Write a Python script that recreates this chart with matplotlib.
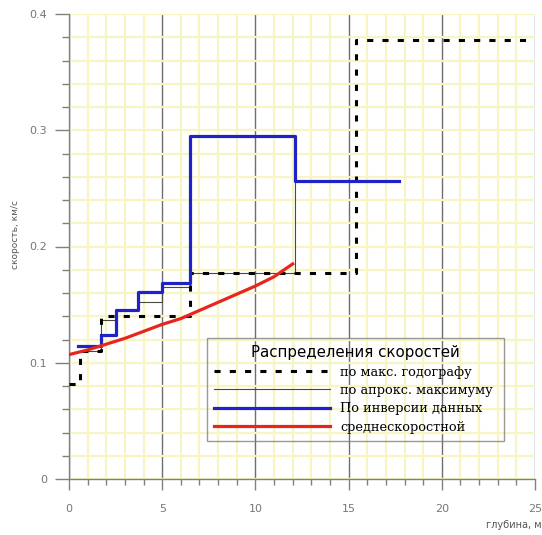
import matplotlib
matplotlib.use("Agg")
import matplotlib.pyplot as plt
import numpy as np
from matplotlib.ticker import MultipleLocator

# ---- data ----
# "по макс. годографу" (step line, dashed black)
hod_x = [0.0, 0.6, 0.6, 1.7, 1.7, 6.5, 6.5, 15.4, 15.4, 25.0]
hod_y = [0.082, 0.082, 0.110, 0.110, 0.140, 0.140, 0.177, 0.177, 0.378, 0.378]

# "по апрокс. максимуму" (thin line)
apr_x = [0.6, 1.7, 1.7, 2.5, 2.5, 3.7, 3.7, 5.0, 5.0, 6.5, 6.5, 12.1, 12.1]
apr_y = [0.110, 0.110, 0.137, 0.137, 0.145, 0.145, 0.152, 0.152, 0.165, 0.165, 0.177, 0.177, 0.256]

# "По инверсии данных" (blue)
inv_x = [0.5, 1.7, 1.7, 2.5, 2.5, 3.7, 3.7, 5.0, 5.0, 6.5, 6.5, 12.1, 12.1, 17.7]
inv_y = [0.114, 0.114, 0.124, 0.124, 0.145, 0.145, 0.161, 0.161, 0.169, 0.169, 0.295, 0.295, 0.256, 0.256]

# "среднескоростной" (red)
avg_x = [0, 1, 2, 3, 4, 5, 6, 7, 8, 9, 10, 11, 12]
avg_y = [0.107, 0.111, 0.116, 0.121, 0.127, 0.133, 0.138, 0.145, 0.152, 0.159, 0.166, 0.174, 0.185]

legend_title = "Распределения скоростей"
labels = ["по макс. годографу", "по апрокс. максимуму", "По инверсии данных", "среднескоростной"]
x_ticks = [0, 5, 10, 15, 20, 25]
y_ticks = [0, 0.1, 0.2, 0.3, 0.4]
y_ticklabels = ["0", "0.1", "0.2", "0.3", "0.4"]

W, H = 542, 535
fig = plt.figure(figsize=(W / 100, H / 100), dpi=100)
ax = fig.add_axes([69 / W, 1 - 479 / H, (535 - 69) / W, (479 - 14) / H])

ax.set_xlim(0, 25)
ax.set_ylim(0, 0.4)

gray = "#808080"
ax.xaxis.set_major_locator(MultipleLocator(5))
ax.xaxis.set_minor_locator(MultipleLocator(1))
ax.yaxis.set_major_locator(MultipleLocator(0.1))
ax.yaxis.set_minor_locator(MultipleLocator(0.02))
ax.set_xticks(x_ticks)
ax.set_yticks(y_ticks)
ax.set_yticklabels(y_ticklabels)

yel = "#f7f5c2"
ax.grid(which="minor", axis="both", color=yel, lw=1.6, zorder=0)
ax.grid(which="major", axis="y", color=yel, lw=1.6, zorder=0)
ax.grid(which="major", axis="x", color="#6e6e6e", lw=1.0, zorder=0.5)
ax.set_axisbelow(True)

for s in ["top", "right"]:
    ax.spines[s].set_visible(False)
for s in ["left", "bottom"]:
    ax.spines[s].set_color(gray)
    ax.spines[s].set_linewidth(1.0)

ax.tick_params(axis="y", which="major", length=10, width=1, color=gray, labelcolor="#777777", labelsize=8, pad=6)
ax.tick_params(axis="y", which="minor", length=5, width=1, color=gray)
ax.tick_params(axis="x", which="major", length=8, width=1, color=gray, labelcolor="#777777", labelsize=8, pad=10)
ax.tick_params(axis="x", which="minor", length=4, width=1, color=gray)

l_apr, = ax.plot(apr_x, apr_y, color="#4a4a3a", lw=0.8, zorder=2)
l_hod, = ax.plot(hod_x, hod_y, color="black", lw=2.2, linestyle=(0, (2, 3)), zorder=3)
l_inv, = ax.plot(inv_x, inv_y, color="#1f22c8", lw=2.3, zorder=4)
l_avg, = ax.plot(avg_x, avg_y, color="#e8251d", lw=2.3, zorder=5)

leg = fig.legend([l_hod, l_apr, l_inv, l_avg], labels,
                 title=legend_title,
                 loc="upper left",
                 bbox_to_anchor=(207 / W, 1 - 338 / H, 297 / W, 0.0),
                 bbox_transform=fig.transFigure,
                 mode="expand",
                 borderaxespad=0,
                 alignment="center",
                 prop={"family": "DejaVu Serif", "size": 9.3},
                 title_fontproperties={"family": "DejaVu Sans", "size": 10.8},
                 handlelength=9.0, handletextpad=0.75,
                 labelspacing=0.42, borderpad=0.55,
                 fancybox=False, frameon=True)
leg.get_frame().set_edgecolor(gray)
leg.get_frame().set_facecolor("none")
leg.get_frame().set_linewidth(1.0)

fig.text(15 / W, 1 - 235 / H, "скорость, км/с", rotation=90, ha="center", va="center",
         fontsize=6.5, color="#555555")
fig.text(514 / W, 1 - 525 / H, "глубина, м", ha="center", va="center",
         fontsize=7, color="#555555")

fig.savefig("out.png", dpi=100)
